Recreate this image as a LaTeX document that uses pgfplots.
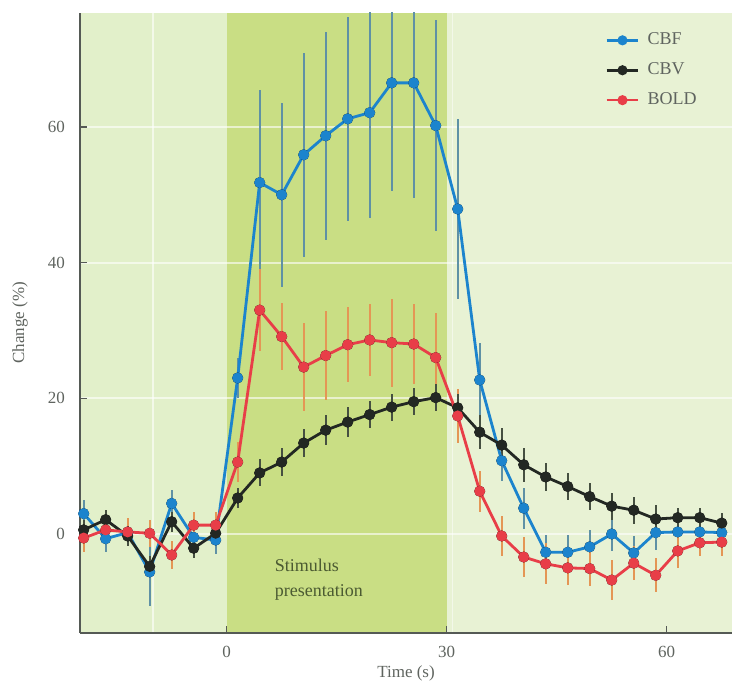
\documentclass[border=0pt]{standalone}
\usepackage{fontspec}
\setmainfont{Liberation Serif}
\usepackage{pgfplots}
\usepackage{pgfplotstable}
\pgfplotsset{compat=1.18}

\definecolor{cbf}{RGB}{28,132,205}
\definecolor{cbv}{RGB}{35,40,35}
\definecolor{bold}{RGB}{232,62,72}
\definecolor{ecbf}{RGB}{95,145,165}
\definecolor{ecbv}{RGB}{70,80,65}
\definecolor{ebold}{RGB}{228,150,85}
\definecolor{bgpre}{RGB}{226,240,202}
\definecolor{bgstim}{RGB}{201,222,132}
\definecolor{bgpost}{RGB}{232,242,212}
\definecolor{axgray}{RGB}{85,90,85}
\definecolor{txgray}{RGB}{95,100,95}
\definecolor{stimtx}{RGB}{75,90,50}

% time (s), value and error of each series
\pgfplotstableread{
t     cbf   ecbf  cbv   ecbv  bold  ebold
-19.5  3.0  2.0   0.6   1.5  -0.6   2.0
-16.5 -0.7  2.0   2.1   1.5   0.6   2.0
-13.5  0.2  2.0  -0.3   1.5   0.3   2.0
-10.5 -5.6  5.0  -4.8   1.5   0.1   2.0
-7.5   4.5  2.0   1.8   1.5  -3.1   2.0
-4.5  -0.5  2.0  -2.1   1.5   1.3   2.0
-1.5  -0.9  2.0   0.1   1.5   1.3   2.0
1.5   23.0  3.0   5.3   1.5  10.6   3.0
4.5   51.8 13.7   9.0   2.0  33.0   6.0
7.5   50.0 13.6  10.6   2.0  29.1   5.0
10.5  55.9 15.0  13.4   2.0  24.6   6.5
13.5  58.7 15.3  15.3   2.2  26.3   6.5
16.5  61.2 15.0  16.5   2.2  27.9   5.5
19.5  62.1 15.5  17.6   2.0  28.6   5.3
22.5  66.5 16.0  18.7   2.0  28.2   6.5
25.5  66.5 17.0  19.5   2.0  28.0   5.9
28.5  60.2 15.5  20.1   2.0  26.0   6.5
31.5  47.9 13.3  18.6   2.0  17.4   4.0
34.5  22.7  5.5  15.0   2.5   6.3   3.0
37.5  10.8  3.0  13.1   2.5  -0.3   3.0
40.5   3.8  3.0  10.2   2.5  -3.4   3.0
43.5  -2.7  2.5   8.4   2.0  -4.4   3.0
46.5  -2.7  2.5   7.0   2.0  -5.0   2.5
49.5  -1.9  2.5   5.5   2.0  -5.1   2.5
52.5   0.0  2.5   4.1   2.0  -6.8   3.0
55.5  -2.8  2.5   3.5   2.0  -4.3   2.5
58.5   0.2  2.5   2.2   2.0  -6.1   2.5
61.5   0.3  2.0   2.4   1.5  -2.5   2.5
64.5   0.3  2.0   2.4   1.5  -1.3   2.0
67.5   0.2  2.0   1.6   1.5  -1.2   2.0
}\data

\begin{document}
\begin{tikzpicture}
\begin{axis}[
  scale only axis, width=326pt, height=310pt,
  xmin=-20, xmax=68.9, ymin=-14.6, ymax=76.8,
  axis lines*=left, axis on top,
  axis line style={axgray, line width=0.9pt},
  xtick={0,30,60}, ytick={0,20,40,60},
  tick align=inside, major tick length=3.5pt,
  tick style={axgray, line width=0.7pt},
  /pgf/number format/assume math mode=true,
  tick label style={font=\fontsize{8.5}{10}\selectfont, text=txgray},
  xticklabel style={yshift=-3pt},
  yticklabel style={xshift=-4pt},
  xlabel={Time (s)}, ylabel={Change (\%)},
  label style={font=\fontsize{8.5}{10}\selectfont, text=txgray},
  xlabel style={at={(axis description cs:0.5,0)}, anchor=center, yshift=-20pt},
  ylabel style={at={(axis description cs:0,0.5)}, anchor=center, yshift=30pt},
  legend style={at={(rel axis cs:0.805,0.975)}, anchor=north west, draw=none,
    fill=none, font=\fontsize{9}{10}\selectfont, text=txgray,
    row sep=3.5pt, inner sep=0pt,
    nodes={inner xsep=4pt}},
  legend cell align=left,
  legend image code/.code={%
    \draw[#1, mark=none, line width=1.3pt] (0cm,0cm) -- (0.56cm,0cm);
    \draw[#1] plot[only marks, mark size=1.8pt] coordinates {(0.28cm,0cm)};},
  every axis plot/.append style={line width=1.4pt, mark=*, mark size=2pt},
]
% background bands
\fill[bgpre] (axis cs:-20,-14.6) rectangle (axis cs:0,76.8);
\fill[bgstim] (axis cs:0,-14.6) rectangle (axis cs:30,76.8);
\fill[bgpost] (axis cs:30,-14.6) rectangle (axis cs:68.9,76.8);
\draw[white, opacity=0.5, line width=0.8pt] (axis cs:30.8,-14.6) -- (axis cs:30.8,76.8);
\draw[white, opacity=0.6, line width=0.9pt] (axis cs:-20,0) -- (axis cs:68.9,0);
\draw[white, opacity=0.6, line width=0.9pt] (axis cs:-20,20) -- (axis cs:68.9,20);
\draw[white, opacity=0.6, line width=0.9pt] (axis cs:-20,40) -- (axis cs:68.9,40);
\draw[white, opacity=0.6, line width=0.9pt] (axis cs:-20,60) -- (axis cs:68.9,60);
\draw[white, opacity=0.6, line width=0.9pt] (axis cs:-10,-14.6) -- (axis cs:-10,76.8);

% error bars first, so that the lines lie over them
\addplot[forget plot, only marks, mark=none, error bars/.cd, y dir=both, y explicit,
  error mark=none, error bar style={ecbf, line width=1pt}]
  table[x=t, y=cbf, y error=ecbf] {\data};
\addplot[forget plot, only marks, mark=none, error bars/.cd, y dir=both, y explicit,
  error mark=none, error bar style={ebold, line width=1pt}]
  table[x=t, y=bold, y error=ebold] {\data};
\addplot[forget plot, only marks, mark=none, error bars/.cd, y dir=both, y explicit,
  error mark=none, error bar style={ecbv, line width=0.9pt}]
  table[x=t, y=cbv, y error=ecbv] {\data};

\addplot[cbf, mark options={fill=cbf}] table[x=t, y=cbf] {\data};
\addlegendentry{CBF}
\addplot[cbv, mark options={fill=cbv}] table[x=t, y=cbv] {\data};
\addlegendentry{CBV}
\addplot[bold, mark options={fill=bold}] table[x=t, y=bold] {\data};
\addlegendentry{BOLD}

\node[anchor=west, align=left, text=stimtx, font=\fontsize{9}{12.5}\selectfont]
  at (axis cs:5.6,-6.8) {Stimulus\\presentation};
\end{axis}
\pgfresetboundingbox
\path (-40pt,-28pt) rectangle (326pt,316.5pt);
\end{tikzpicture}
\end{document}
